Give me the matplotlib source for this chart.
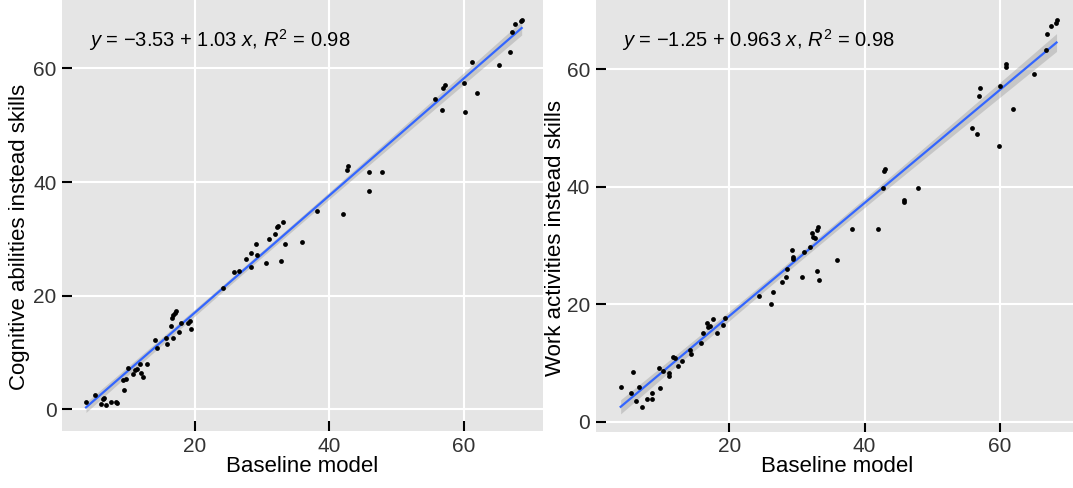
import numpy as np
import matplotlib
matplotlib.use("Agg")
import matplotlib.pyplot as plt

plt.rcParams['font.family'] = ['Liberation Sans', 'DejaVu Sans']
plt.rcParams['mathtext.fontset'] = 'custom'
plt.rcParams['mathtext.rm'] = 'Liberation Sans'
plt.rcParams['mathtext.it'] = 'Liberation Sans:italic'

# baseline model scores vs. cognitive abilities model
base_cog = [3.79, 5.08, 5.97, 6.27, 6.52, 6.77, 7.46, 8.20, 8.45, 9.49, 9.34, 9.74,
            10.09, 10.83, 11.08, 11.42, 11.82, 11.97, 12.22, 12.91, 14.05, 14.30,
            15.69, 15.89, 16.78, 16.43, 16.58, 16.68, 16.98, 17.17, 17.62, 17.87,
            19.01, 19.26, 19.36, 24.21, 25.85, 26.54, 27.58, 28.33, 28.38, 29.12,
            29.17, 30.56, 31.05, 31.90, 32.14, 32.39, 33.04, 32.79, 33.33, 35.86,
            38.19, 41.96, 42.55, 42.80, 45.92, 45.92, 47.81, 55.74, 56.68, 56.93,
            57.13, 60.00, 60.15, 61.19, 61.98, 65.20, 66.84, 67.09, 67.58, 68.43, 68.58]
cog = [1.38, 2.55, 0.91, 1.85, 1.96, 0.79, 1.38, 1.38, 1.20, 3.43, 5.19, 5.31,
       7.36, 6.19, 6.95, 7.13, 7.95, 6.37, 5.78, 7.95, 12.17, 10.76,
       12.52, 11.52, 12.52, 14.75, 16.04, 16.63, 16.92, 17.33, 13.69, 15.16,
       15.16, 15.63, 14.10, 21.31, 24.13, 24.36, 26.53, 27.47, 25.12, 29.11,
       27.11, 25.71, 29.93, 30.87, 32.16, 32.28, 33.04, 26.12, 29.11, 29.52,
       34.92, 34.33, 42.13, 42.89, 41.72, 38.49, 41.72, 54.57, 52.69, 56.50,
       57.09, 57.50, 52.34, 61.13, 55.74, 60.54, 62.94, 66.46, 67.75, 68.40, 68.52]

# baseline model scores vs. work activities model
base_work = [3.94, 5.71, 5.47, 6.21, 6.60, 7.09, 7.78, 8.62, 8.62, 9.66, 9.80, 10.25,
             11.08, 11.13, 11.63, 11.97, 12.46, 12.96, 14.19, 14.29, 15.81, 16.16,
             16.75, 16.90, 17.14, 17.54, 18.13, 19.11, 19.41, 24.38, 26.11, 26.50,
             27.73, 28.37, 28.57, 29.21, 29.36, 29.40, 30.74, 31.03, 31.92, 32.22,
             32.41, 32.66, 33.00, 33.15, 32.91, 33.25, 35.96, 38.18, 42.02, 42.66,
             42.86, 43.00, 45.86, 45.86, 47.83, 55.81, 56.55, 56.90, 57.09, 59.90,
             60.00, 60.89, 60.89, 61.97, 65.07, 66.75, 67.00, 67.49, 68.23, 68.37]
work = [5.85, 8.40, 4.83, 3.52, 5.85, 2.55, 3.80, 3.80, 4.94, 9.20, 5.68, 8.63,
        8.24, 7.78, 11.08, 10.80, 9.55, 10.34, 12.22, 11.53, 13.35, 15.06,
        16.74, 16.17, 16.29, 17.42, 15.15, 16.46, 17.59, 21.40, 20.03, 22.13,
        23.84, 24.69, 25.94, 29.23, 27.98, 27.65, 24.69, 28.94, 29.80, 32.18,
        31.50, 31.22, 32.63, 33.20, 25.65, 24.12, 27.53, 32.75, 32.75, 39.73,
        42.74, 43.13, 37.74, 37.45, 39.84, 50.06, 48.98, 55.45, 56.92, 46.94,
        57.15, 61.01, 60.45, 53.35, 59.31, 63.28, 66.12, 67.42, 67.94, 68.39]

# fitted coefficients (intercept, slope) and R^2 reported for each panel
fit_cog = (-3.53, 1.03, 0.98)
fit_work = (-1.25, 0.963, 0.98)

y_ticks = [0, 20, 40, 60]
x_ticks = [20, 40, 60]

W, H = 1073, 488


def add_panel(fig, box, x, y, fit, eq, ylabel, xlim, ylim, ylab_x):
    left, top, right, bottom = box
    ax = fig.add_axes([left / W, 1 - bottom / H, (right - left) / W, (bottom - top) / H])
    ax.set_facecolor('#E5E5E5')
    for s in ax.spines.values():
        s.set_visible(False)
    ax.set_axisbelow(True)
    ax.grid(True, color='white', linewidth=1.5)

    x = np.asarray(x)
    y = np.asarray(y)
    b0, b1, r2 = fit

    # regression line with 95% confidence band
    xs = np.linspace(x.min(), x.max(), 100)
    yhat = b0 + b1 * xs
    n = len(x)
    resid = y - (b0 + b1 * x)
    sigma = np.sqrt(np.sum(resid ** 2) / (n - 2))
    sxx = np.sum((x - x.mean()) ** 2)
    se = sigma * np.sqrt(1 / n + (xs - x.mean()) ** 2 / sxx)
    ax.fill_between(xs, yhat - 1.99 * se, yhat + 1.99 * se, color='#999999',
                    alpha=0.4, linewidth=0, zorder=2)
    ax.plot(xs, yhat, color='#3366FF', linewidth=1.6, zorder=3)
    ax.scatter(x, y, s=12, color='black', zorder=4, linewidths=0)

    ax.text(0.055, 0.908, eq, transform=ax.transAxes, fontsize=14.5,
            va='center', ha='left', color='black')

    ax.set_xlim(*xlim)
    ax.set_ylim(*ylim)
    ax.set_xticks(x_ticks)
    ax.set_yticks(y_ticks)
    ax.tick_params(direction='in', length=7, width=1.5, color='black',
                   labelsize=15, labelcolor='#333333', pad=4)
    ax.set_xlabel('Baseline model', fontsize=16, labelpad=0)
    ax.set_ylabel(ylabel, fontsize=16, va='center')
    ax.yaxis.set_label_coords(ylab_x, 0.45)
    return ax


fig = plt.figure(figsize=(W / 100, H / 100), dpi=100)

add_panel(fig, (62.2, 0.2, 543.0, 431.1), base_cog, cog, fit_cog,
          r'$y$ = $-$3.53 + 1.03 $x$, $R^2$ = 0.98',
          'Cognitive abilities instead skills', (0.25, 71.75), (-3.8, 72.0), -0.088)
add_panel(fig, (595.7, 0.2, 1079.4, 431.7), base_work, work, fit_work,
          r'$y$ = $-$1.25 + 0.963 $x$, $R^2$ = 0.98',
          'Work activities instead skills', (0.25, 71.75), (-1.7, 71.8), -0.084)

fig.savefig('out.png', dpi=100)
